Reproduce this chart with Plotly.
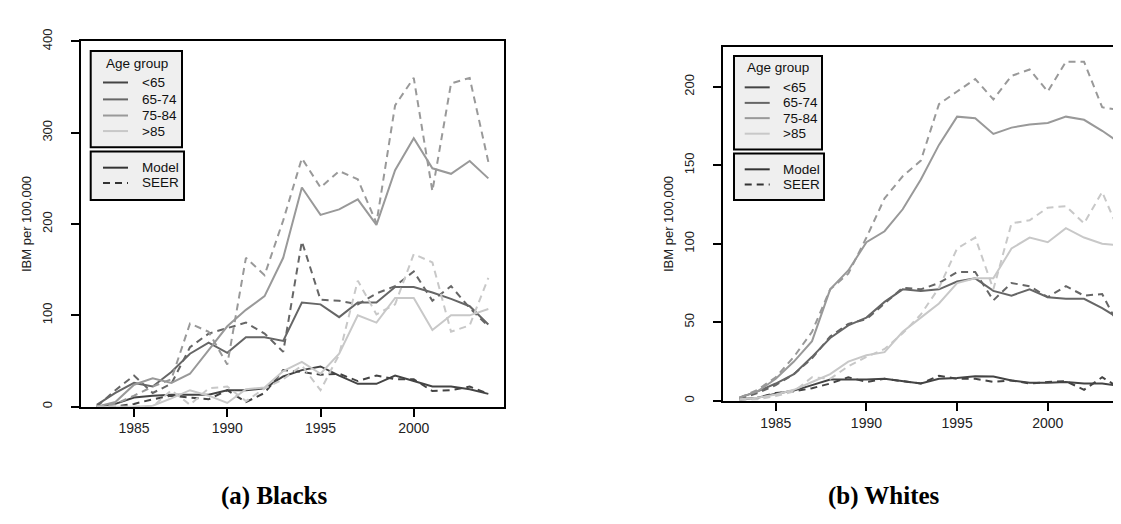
import plotly.graph_objects as go

W, H = 1121, 524

years = list(range(1983, 2005))

# ---- Blacks (panel a) ----
b_lt65_model = [0, 3, 10, 12, 13, 13, 13, 18, 18, 20, 33, 40, 44, 34, 25, 25, 34, 28, 22, 22, 19, 14]
b_lt65_seer = [0, 0, 3, 8, 12, 10, 8, 18, 5, 15, 40, 38, 35, 36, 28, 34, 30, 30, 17, 18, 22, 14]
b_6574_model = [2, 15, 26, 22, 38, 58, 70, 59, 76, 76, 72, 114, 112, 98, 114, 114, 131, 131, 125, 118, 110, 90]
b_6574_seer = [0, 18, 34, 15, 25, 65, 80, 86, 92, 80, 60, 181, 117, 116, 112, 124, 132, 148, 116, 132, 108, 88]
b_7584_model = [0, 5, 24, 31, 26, 36, 62, 88, 106, 121, 163, 240, 210, 216, 227, 199, 259, 294, 261, 255, 269, 250]
b_7584_seer = [0, 3, 12, 22, 30, 91, 82, 46, 163, 144, 204, 272, 240, 258, 249, 201, 330, 360, 236, 354, 360, 268]
b_gt85_model = [0, 0, 0, 1, 9, 18, 12, 4, 19, 21, 39, 49, 36, 58, 100, 92, 119, 119, 84, 100, 100, 107]
b_gt85_seer = [0, 0, 0, 0, 18, 2, 20, 22, 6, 20, 30, 45, 18, 57, 138, 101, 112, 167, 158, 82, 89, 141]

# ---- Whites (panel b) ----
w_lt65_model = [1, 2, 4.5, 6.5, 10, 13.5, 13.5, 13.5, 14, 12.7, 11, 14, 14.5, 15.7, 15.5, 13, 11.5, 11.5, 12, 11, 11, 9.5]
w_lt65_seer = [0.5, 2, 5, 6, 8, 11, 15, 12, 14, 12.5, 11, 16, 14, 14, 12, 13, 11, 12, 12.5, 7, 15, 8]
w_6574_model = [2, 6, 11, 17, 28, 40, 48, 53, 63, 71, 70, 71, 76, 78, 70, 67, 71, 66, 65, 65, 59, 52]
w_6574_seer = [1, 5, 10, 17, 27, 41, 49, 52, 62, 72, 71, 75, 82, 82, 64, 75, 73, 66, 73, 67, 68, 46]
w_7584_model = [2, 6, 14, 25, 38, 71, 83, 101, 108, 122, 141, 163, 181, 180, 170, 174, 176, 177, 181, 179, 172, 164]
w_7584_seer = [2, 7, 15, 28, 44, 71, 81, 104, 129, 143, 153, 189, 197, 205, 192, 207, 211, 197, 216, 216, 187, 185]
w_gt85_model = [1, 2, 4, 7, 12, 17, 25, 29, 31, 44, 53, 62, 75, 78, 78, 97, 104, 101, 110, 104, 100, 99]
w_gt85_seer = [0.5, 1, 3, 6, 15, 14, 22, 28, 33, 43, 55, 72, 97, 104, 71, 113, 115, 123, 124, 113, 133, 106]

age_groups = ["<65", "65-74", "75-84", ">85"]
source_labels = ["Model", "SEER"]
x_ticks = [1985, 1990, 1995, 2000]
b_y_ticks = [0, 100, 200, 300, 400]
w_y_ticks = [0, 50, 100, 150, 200]
panel_titles = ["(a) Blacks", "(b) Whites"]
y_title = "IBM per 100,000"

colors = ["#444444", "#666666", "#999999", "#c8c8c8"]
DASH = "7px,5px"
LW = 2

blacks = [(b_lt65_model, b_lt65_seer), (b_6574_model, b_6574_seer),
          (b_7584_model, b_7584_seer), (b_gt85_model, b_gt85_seer)]
whites = [(w_lt65_model, w_lt65_seer), (w_6574_model, w_6574_seer),
          (w_7584_model, w_7584_seer), (w_gt85_model, w_gt85_seer)]

fig = go.Figure()
for (xa, ya, data) in [("x", "y", blacks), ("x2", "y2", whites)]:
    for i, (model, seer) in enumerate(data):
        fig.add_trace(go.Scatter(x=years, y=seer, mode="lines", xaxis=xa, yaxis=ya,
                                 line=dict(color=colors[i], width=LW, dash=DASH),
                                 showlegend=False, hoverinfo="skip"))
        fig.add_trace(go.Scatter(x=years, y=model, mode="lines", xaxis=xa, yaxis=ya,
                                 line=dict(color=colors[i], width=LW),
                                 showlegend=False, hoverinfo="skip"))


def X(p):
    return p / W


def Y(p):
    return 1 - p / H


tick_font_x = dict(family="Liberation Sans Narrow, Arial Narrow, Liberation Sans", size=14, color="#222")
tick_font_y = dict(family="Liberation Sans", size=13, color="#222")

common_x = dict(tickmode="array", tickvals=x_ticks, ticks="outside", ticklen=8, tickwidth=1.5,
                tickcolor="black", showline=True, linecolor="black", linewidth=2,
                showgrid=False, zeroline=False, tickfont=tick_font_x, ticklabelstandoff=0)
common_y = dict(ticks="outside", ticklen=8, tickwidth=1.5, tickcolor="black", showline=True,
                linecolor="black", linewidth=2, showgrid=False, zeroline=False,
                tickfont=tick_font_y, tickangle=-90, ticklabelstandoff=14, tickmode="array")

fig.update_layout(
    width=W, height=H, margin=dict(l=0, r=0, t=0, b=0),
    paper_bgcolor="white", plot_bgcolor="white", showlegend=False,
    xaxis=dict(common_x, domain=[X(72.7), X(496)], range=[1982.14, 2004.84], mirror=True, anchor="y"),
    yaxis=dict(common_y, domain=[Y(397), Y(21)], range=[0, 400], tickvals=b_y_ticks, mirror=True, anchor="x"),
    xaxis2=dict(common_x, domain=[X(715), 1.0], range=[1982.09, 2004.48], mirror=True, anchor="y2"),
    yaxis2=dict(common_y, domain=[Y(391), Y(26.7)], range=[0, 225.4], tickvals=w_y_ticks, mirror=False, anchor="x2"),
)

shapes = []
annotations = []

# axis titles and panel captions
for xc, yc in [(18, 209), (660, 209)]:
    annotations.append(dict(x=X(xc), y=Y(yc), xref="paper", yref="paper",
                            xanchor="center", yanchor="middle",
                            text=y_title, textangle=-90, showarrow=False,
                            font=dict(family="Liberation Sans", size=13, color="#222")))
for xc, t in [(266, panel_titles[0]), (876, panel_titles[1])]:
    annotations.append(dict(x=X(xc), y=Y(489), xref="paper", yref="paper", text="<b>%s</b>" % t,
                            xanchor="center", yanchor="middle", showarrow=False,
                            font=dict(family="Liberation Serif, Times New Roman", size=25, color="black")))

# legends
legend_specs = [
    dict(b1=(82.7, 31, 174, 130), b2=(82.7, 134.3, 176, 184.3), title=(128.5, 44),
         rows=[63.3, 80.7, 97.3, 113.3], lx=(95, 120), tx=131.7, srows=[151, 166.7]),
    dict(b1=(726, 36, 814, 132.3), b2=(726, 136.3, 816, 184.3), title=(770, 48.3),
         rows=[68.3, 84.3, 100, 116], lx=(736.7, 761.7), tx=773.3, srows=[152.7, 168.3]),
]
lfont = dict(family="Liberation Sans", size=13.5, color="#111")
for sp in legend_specs:
    for b in (sp["b1"], sp["b2"]):
        shapes.append(dict(type="rect", xref="paper", yref="paper", x0=X(b[0]), x1=X(b[2]),
                           y0=Y(b[3]), y1=Y(b[1]), fillcolor="#efefef",
                           line=dict(color="black", width=2), layer="above"))
    annotations.append(dict(x=X(sp["title"][0]), y=Y(sp["title"][1]), xref="paper", yref="paper",
                            xanchor="center", yanchor="middle",
                            text="Age group", showarrow=False, font=lfont))
    for i, ry in enumerate(sp["rows"]):
        shapes.append(dict(type="line", xref="paper", yref="paper", x0=X(sp["lx"][0]), x1=X(sp["lx"][1]),
                           y0=Y(ry), y1=Y(ry), line=dict(color=colors[i], width=2), layer="above"))
        annotations.append(dict(x=X(sp["tx"]), y=Y(ry), xref="paper", yref="paper", text=age_groups[i],
                                xanchor="left", yanchor="middle", showarrow=False, font=lfont))
    for j, ry in enumerate(sp["srows"]):
        shapes.append(dict(type="line", xref="paper", yref="paper", x0=X(sp["lx"][0]), x1=X(sp["lx"][1]),
                           y0=Y(ry), y1=Y(ry),
                           line=dict(color="#333333", width=2, dash=DASH if j == 1 else "solid"),
                           layer="above"))
        annotations.append(dict(x=X(sp["tx"]), y=Y(ry), xref="paper", yref="paper", text=source_labels[j],
                                xanchor="left", yanchor="middle", showarrow=False, font=lfont))

fig.update_layout(shapes=shapes, annotations=annotations)
fig.write_html("out.html")
